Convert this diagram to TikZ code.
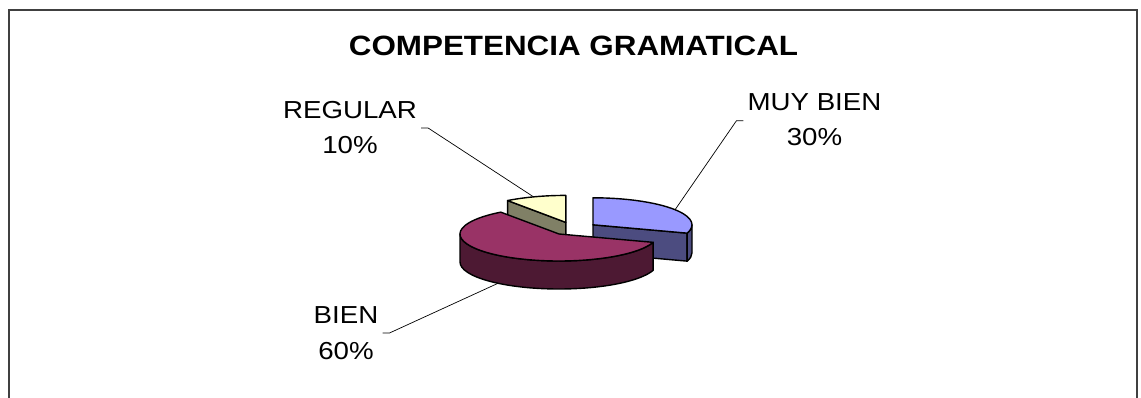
\documentclass[tikz,border=0pt]{standalone}
\usepackage{fontspec}
\usepackage{xcolor}
\usetikzlibrary{calc}
\newfontfamily\chartfont[FakeStretch=1.125]{Liberation Sans}
\definecolor{muytop}{HTML}{9999FF}
\definecolor{muyside}{HTML}{4C4C80}
\definecolor{bientop}{HTML}{993366}
\definecolor{bienside}{HTML}{4D1933}
\definecolor{regtop}{HTML}{FFFFCC}
\definecolor{regside}{HTML}{808066}
\definecolor{framegray}{HTML}{404040}
\tikzset{
  face/.style={draw=black,line width=1.4pt,line join=round},
  lbl/.style={font=\chartfont\fontsize{24.6}{35.5}\selectfont,align=center,inner sep=0pt},
  leader/.style={draw=black,line width=0.7pt},
}

\begin{document}
\begin{tikzpicture}[x=1pt,y=-1pt]
\useasboundingbox (0,0) rectangle (1141,398);
%the frame, open at the bottom
\draw[framegray,line width=2pt] (8.5,398) -- (8.5,10) -- (1136.5,10) -- (1136.5,398);
%title
\node[font=\chartfont\bfseries\fontsize{27.9}{33}\selectfont,inner sep=0pt] (title) at (573.5,45.7) {COMPETENCIA GRAMATICAL};
%centres of the three exploded slices
\coordinate (cmuy) at (593.0,224.8);
\coordinate (cbien) at (559.0,234.0);
\coordinate (creg) at (565.8,222.4);
%REGULAR slice (back)
\draw[face,fill=regside] (creg) -- ($(creg)+(234:99 and 27)$) -- ++(0,28) -- ($(creg)+(0,28)$) -- cycle;
\draw[face,fill=regtop] (creg) -- ($(creg)+(234:99 and 27)$) arc[start angle=234,end angle=270,x radius=99,y radius=27] -- cycle;
%MUY BIEN slice
\draw[face,fill=muyside] (cmuy) -- ($(cmuy)+(18:99 and 27)$) -- ++(0,28) -- ($(cmuy)+(0,28)$) -- cycle;
\draw[face,fill=muyside] ($(cmuy)+(0:99 and 27)$) arc[start angle=0,end angle=18,x radius=99,y radius=27] -- ++(0,28) arc[start angle=18,end angle=0,x radius=99,y radius=27] -- cycle;
\draw[face,fill=muytop] (cmuy) -- ($(cmuy)+(-90:99 and 27)$) arc[start angle=-90,end angle=18,x radius=99,y radius=27] -- cycle;
%BIEN slice (front)
\draw[face,fill=bienside] ($(cbien)+(18:99 and 27)$) arc[start angle=18,end angle=180,x radius=99,y radius=27] -- ++(0,28) arc[start angle=180,end angle=18,x radius=99,y radius=27] -- cycle;
\draw[face,fill=bientop] (cbien) -- ($(cbien)+(18:99 and 27)$) arc[start angle=18,end angle=234,x radius=99,y radius=27] -- cycle;
%labels
\node[lbl] (muy) at (814.5,119.8) {MUY BIEN\\30\%};
\node[lbl] (reg) at (350,127.3) {REGULAR\\10\%};
\node[lbl] (bien) at (346,333) {BIEN\\60\%};
%where the leader lines touch the slices
\coordinate (muytip) at ($(cmuy)+(-34:99 and 27)$);
\coordinate (regtip) at ($(creg)+(251:99 and 27)$);
\coordinate (bientip) at ($(cbien)+(128:99 and 27)+(0,28)$);
%leader lines
\draw[leader] ($(muy.west)+(-4,1)$) -- ++(-7,0) -- (muytip);
\draw[leader] ($(reg.east)+(4,0.7)$) -- ++(7,0) -- (regtip);
\draw[leader] ($(bien.east)+(4,0)$) -- ++(7,0) -- (bientip);
\end{tikzpicture}
\end{document}
